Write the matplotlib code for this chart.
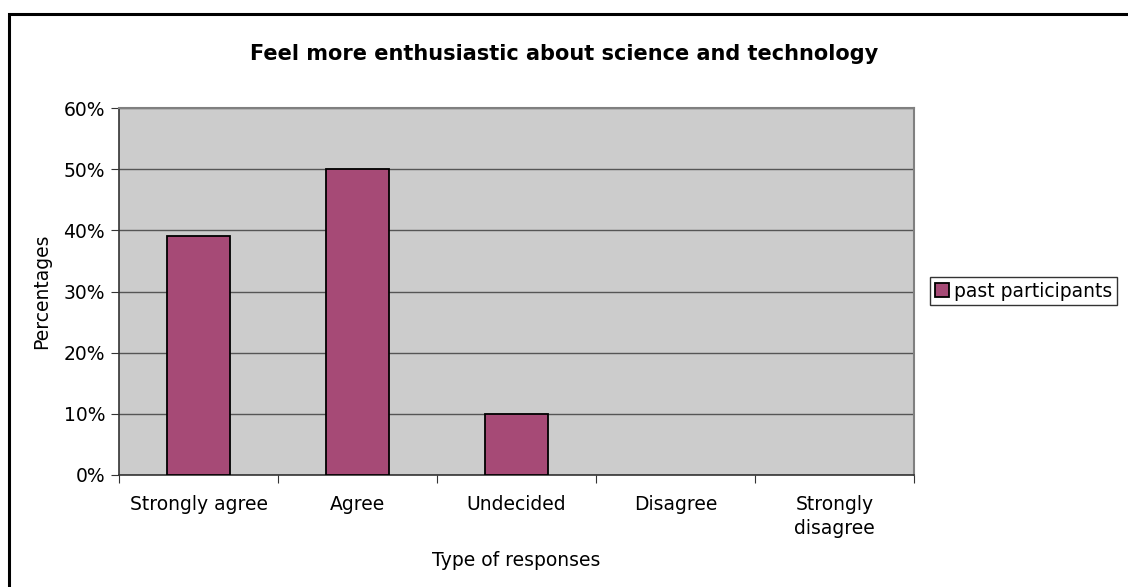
import matplotlib
matplotlib.use("Agg")
import matplotlib.pyplot as plt
from matplotlib.patches import Rectangle
import numpy as np

categories = ["Strongly agree", "Agree", "Undecided", "Disagree", "Strongly\ndisagree"]
values = [39, 50, 10, 0, 0]
yticks = [0, 10, 20, 30, 40, 50, 60]
ytick_labels = ["0%", "10%", "20%", "30%", "40%", "50%", "60%"]
series_name = "past participants"

FS = 13.5
fig = plt.figure(figsize=(11.28, 5.87), dpi=100)
fig.patch.set_facecolor("white")
fig.patches.append(Rectangle((9/1128, -0.05), 1.1, 1 - 14/587 + 0.05, transform=fig.transFigure,
                             fill=False, edgecolor="black", linewidth=2.2))

ax = fig.add_axes([119/1128, 1 - 475/587, (914 - 119)/1128, (475 - 108)/587])
ax.set_facecolor("#CCCCCC")
x = np.arange(len(categories))
edges = ["black" if v > 0 else "none" for v in values]
ax.bar(x, values, width=0.4, color="#A64A76", edgecolor=edges, linewidth=1.3,
       label=series_name, zorder=3)
ax.set_xlim(-0.5, len(categories) - 0.5)
ax.set_ylim(0, 60)
ax.set_yticks(yticks)
ax.set_yticklabels(ytick_labels, fontsize=FS)
ax.yaxis.grid(True, color="#555555", linewidth=1, zorder=1)
ax.set_axisbelow(True)

ax.set_xticks(np.arange(len(categories) + 1) - 0.5, minor=False)
ax.set_xticklabels([])
ax.set_xticks(x, minor=True)
ax.set_xticklabels(categories, minor=True, fontsize=FS, linespacing=1.35)
ax.tick_params(axis="x", which="minor", length=0, pad=14.5)
ax.tick_params(axis="x", which="major", length=6, color="#333333")
ax.tick_params(axis="y", length=6, color="#333333", pad=4)

for s in ["top", "right"]:
    ax.spines[s].set_color("#808080")
    ax.spines[s].set_linewidth(1.5)
for s in ["left", "bottom"]:
    ax.spines[s].set_color("#333333")
    ax.spines[s].set_linewidth(1.2)

ax.set_ylabel("Percentages", fontsize=FS, labelpad=9)
ax.set_xlabel("Type of responses", fontsize=FS, labelpad=9)
fig.text(564/1128, 1 - 54/587, "Feel more enthusiastic about science and technology",
         ha="center", va="center", fontsize=15, fontweight="bold")

leg = ax.legend(loc="center left", bbox_to_anchor=(930/1128, 1 - 291/587),
                bbox_transform=fig.transFigure, fontsize=FS, frameon=True, fancybox=False,
                edgecolor="black", handlelength=0.75, handleheight=0.75, handletextpad=0.3,
                borderpad=0.25, borderaxespad=0)
leg.get_frame().set_linewidth(1)

fig.savefig("out.png", dpi=100)
